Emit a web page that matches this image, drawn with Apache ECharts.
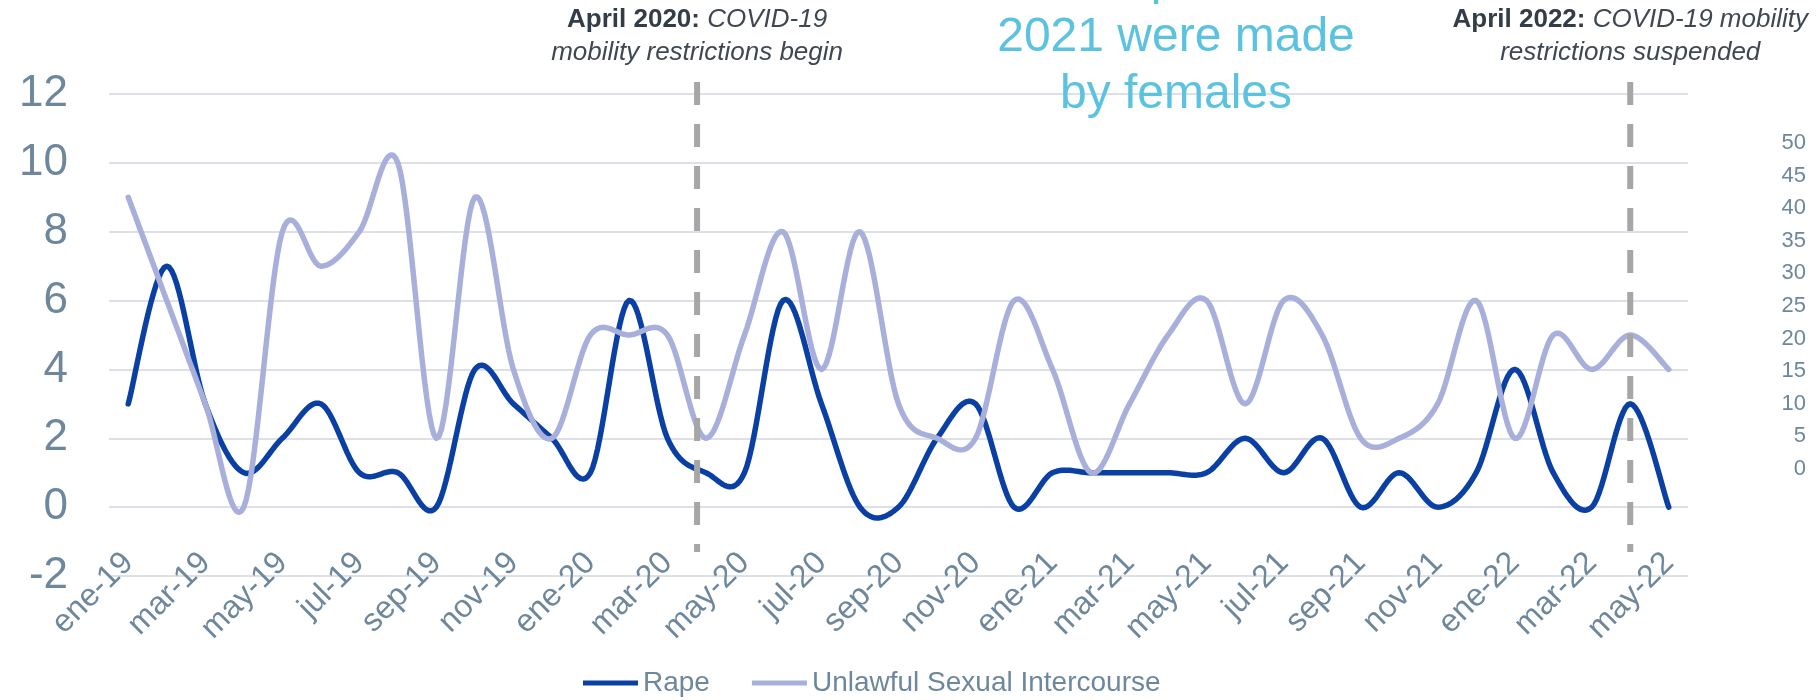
<!DOCTYPE html>
<html>
<head>
<meta charset="utf-8">
<script src="https://cdn.jsdelivr.net/npm/echarts@6/dist/echarts.min.js"></script>
<style>
	html, body { margin: 0; padding: 0; background: #fff; }
	#chart { width: 1819px; height: 700px; }
</style>
</head>
<body>
<div id="chart"></div>
<script>
// meses ene-19 .. may-22
const months = [
	"ene-19", "feb-19", "mar-19", "abr-19", "may-19", "jun-19", "jul-19", "ago-19", "sep-19", "oct-19", "nov-19", "dic-19",
	"ene-20", "feb-20", "mar-20", "abr-20", "may-20", "jun-20", "jul-20", "ago-20", "sep-20", "oct-20", "nov-20", "dic-20",
	"ene-21", "feb-21", "mar-21", "abr-21", "may-21", "jun-21", "jul-21", "ago-21", "sep-21", "oct-21", "nov-21", "dic-21",
	"ene-22", "feb-22", "mar-22", "abr-22", "may-22",
];
const rape = [
	3, 7, 3, 1, 2, 3, 1, 1, 0, 4, 3, 2,
	1, 6, 2, 1, 1, 6, 3, 0, 0, 2, 3, 0,
	1, 1, 1, 1, 1, 2, 1, 2, 0, 1, 0, 1,
	4, 1, 0, 3, 0,
];
const unlawful = [
	9, 6, 3, 0, 8, 7, 8, 10, 2, 9, 4, 2,
	5, 5, 5, 2, 5, 8, 4, 8, 3, 2, 2, 6,
	4, 1, 3, 5, 6, 3, 6, 5, 2, 2, 3, 6,
	2, 5, 4, 5, 4,
];
const leftTicks = [-2, 0, 2, 4, 6, 8, 10, 12];
const rightTicks = [0, 5, 10, 15, 20, 25, 30, 35, 40, 45, 50];

// COVID markers (position in months from ene-19)
const eventPos = [14.77, 39];
const eventTitles = ["April 2020:", "April 2022:"];
const eventNotes = [
	["COVID-19", "mobility restrictions begin"],
	["COVID-19 mobility", "restrictions suspended"],
];
const calloutLines = ["Of reports in", "2021 were made", "by females"];

const FONT = "'Liberation Sans', Arial, sans-serif";
const AXIS_COLOR = "#6d879d";
const GRID_COLOR = "#dde1e7";
const RAPE_COLOR = "#0a3fa4";
const USI_COLOR = "#a8afda";

const chart = echarts.init(document.getElementById("chart"));

// Excel-style smoothed line (Catmull-Rom, 1/6 handles), points mapped by the axes
function smoothPoints(values, api) {
	const p = values.map((v, i) => api.coord([i, v]));
	const out = [];
	const steps = 16;
	for (let i = 0; i < p.length - 1; i++) {
		const p0 = p[Math.max(i - 1, 0)];
		const p1 = p[i];
		const p2 = p[i + 1];
		const p3 = p[Math.min(i + 2, p.length - 1)];
		const c1 = [p1[0] + (p2[0] - p0[0]) / 6, p1[1] + (p2[1] - p0[1]) / 6];
		const c2 = [p2[0] - (p3[0] - p1[0]) / 6, p2[1] - (p3[1] - p1[1]) / 6];
		for (let s = i === 0 ? 0 : 1; s <= steps; s++) {
			const t = s / steps;
			const u = 1 - t;
			const a = u * u * u, b = 3 * u * u * t, c = 3 * u * t * t, d = t * t * t;
			out.push([
				a * p1[0] + b * c1[0] + c * c2[0] + d * p2[0],
				a * p1[1] + b * c1[1] + c * c2[1] + d * p2[1],
			]);
		}
	}
	return out;
}

function smoothSeries(name, values, color) {
	return {
		name: name,
		type: "custom",
		data: values.map((v, i) => [i, v]),
		encode: { x: 0, y: 1 },
		itemStyle: { color: color },
		renderItem: (params, api) => {
			if (params.dataIndex !== 0) return null;
			return {
				type: "polyline",
				shape: { points: smoothPoints(values, api) },
				style: { stroke: color, lineWidth: 5.5, fill: null, lineJoin: "round", lineCap: "round" },
			};
		},
	};
}

const option = {
	backgroundColor: "#fff",
	animation: false,
	textStyle: { fontFamily: FONT },
	grid: [
		{ left: 109, right: 131, top: 94, bottom: 124, outerBoundsMode: "none" },
		{ left: 109, right: 131, top: 143, bottom: 231, outerBoundsMode: "none" },
	],
	legend: {
		left: 578,
		top: 664,
		icon: "rect",
		itemWidth: 55,
		itemHeight: 5,
		itemGap: 42,
		textStyle: { fontSize: 28, color: AXIS_COLOR, fontFamily: FONT },
		data: ["Rape", "Unlawful Sexual Intercourse"],
	},
	xAxis: [
		{
			type: "category",
			data: months,
			boundaryGap: true,
			axisLine: { show: false },
			axisTick: { show: false },
			axisLabel: {
				interval: 1,
				rotate: 45,
				fontSize: 32,
				color: AXIS_COLOR,
				fontFamily: FONT,
				margin: -18,
				hideOverlap: false,
			},
		},
		{ type: "value", gridIndex: 1, show: false },
	],
	yAxis: [
		{
			type: "value",
			min: leftTicks[0],
			max: leftTicks[leftTicks.length - 1],
			interval: leftTicks[1] - leftTicks[0],
			axisLine: { show: false },
			axisTick: { show: false },
			axisLabel: { fontSize: 44, color: AXIS_COLOR, fontFamily: FONT, margin: 41 },
			splitLine: { lineStyle: { color: GRID_COLOR, width: 2 } },
		},
		{
			type: "value",
			gridIndex: 1,
			position: "right",
			min: rightTicks[0],
			max: rightTicks[rightTicks.length - 1],
			interval: rightTicks[1] - rightTicks[0],
			axisLine: { show: false },
			axisTick: { show: false },
			splitLine: { show: false },
			axisLabel: { fontSize: 22, color: AXIS_COLOR, fontFamily: FONT, align: "right", margin: 118 },
		},
	],
	series: [
		smoothSeries("Rape", rape, RAPE_COLOR),
		smoothSeries("Unlawful Sexual Intercourse", unlawful, USI_COLOR),
	],
};
chart.setOption(option);

// x position of a fractional month index
function xAt(f) {
	const i = Math.floor(f);
	const a = chart.convertToPixel({ xAxisIndex: 0 }, i);
	if (f === i) return a;
	const b = chart.convertToPixel({ xAxisIndex: 0 }, i + 1);
	return a + (b - a) * (f - i);
}

const graphics = [];
const yTop = chart.convertToPixel({ yAxisIndex: 0 }, 12.35);
const yBot = chart.convertToPixel({ yAxisIndex: 0 }, -1.3);
eventPos.forEach((p, k) => {
	const x = xAt(p);
	graphics.push({
		type: "line",
		shape: { x1: x, y1: yTop, x2: x, y2: yBot },
		style: { stroke: "#a6a6a6", lineWidth: 6, lineDash: [23, 19] },
		z: 10,
	});
	graphics.push({
		type: "text",
		x: x,
		y: 3,
		style: {
			text: "{b|" + eventTitles[k] + "} {i|" + eventNotes[k][0] + "}\n{i|" + eventNotes[k][1] + "}",
			align: "center",
			verticalAlign: "top",
			fill: "#39434e",
			font: "26px " + FONT,
			lineHeight: 33,
			rich: {
				b: { fontWeight: "bold", fontSize: 26, fontFamily: FONT, fill: "#333d48", lineHeight: 33 },
				i: { fontStyle: "italic", fontSize: 26, fontFamily: FONT, fill: "#3f4852", lineHeight: 33 },
			},
		},
		z: 10,
	});
});
graphics.push({
	type: "text",
	x: 1176,
	y: -48,
	style: {
		text: calloutLines.join("\n"),
		align: "center",
		verticalAlign: "top",
		fill: "#5bc3e0",
		font: "48px " + FONT,
		lineHeight: 57,
	},
	z: 10,
});
chart.setOption({ graphic: graphics });
</script>
</body>
</html>
